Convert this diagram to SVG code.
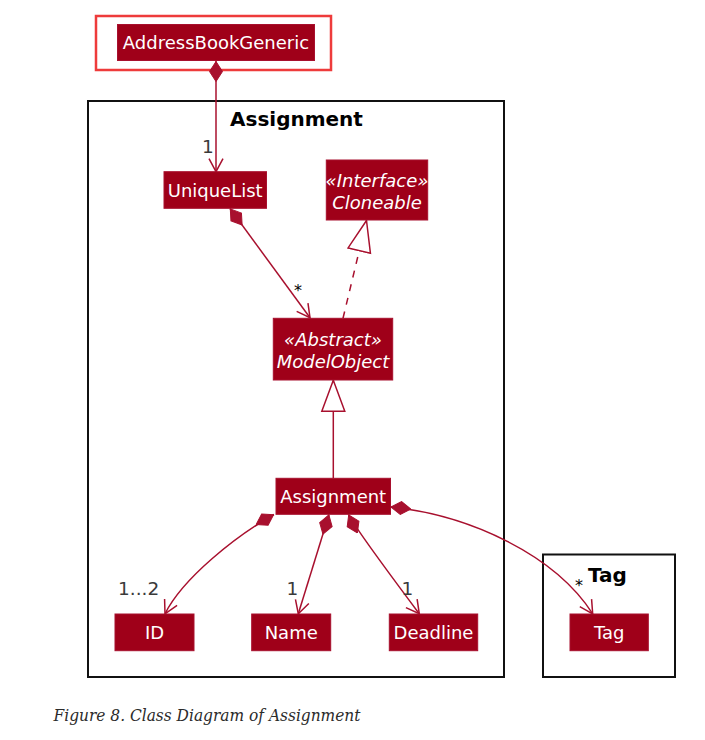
<svg xmlns="http://www.w3.org/2000/svg" width="705" height="740" viewBox="0 0 705 740">
<style>
.box{fill:#9f0019;stroke:#a8102e;stroke-width:1}
.lbl{font-family:"DejaVu Sans",sans-serif;font-size:18px;fill:#ffffff;text-anchor:middle}
.it{font-style:italic}
.frame{fill:none;stroke:#111;stroke-width:2}
.pkg{font-family:"DejaVu Sans",sans-serif;font-weight:bold;font-size:20px;fill:#000}
.mult{font-family:"DejaVu Sans",sans-serif;font-size:18.5px;fill:#3a3a3a}
.star{font-family:"DejaVu Sans",sans-serif;font-size:16px;fill:#000;text-anchor:middle}
.conn{fill:none;stroke:#a8102e;stroke-width:1.5}
</style>
<defs>
<marker id="arrow" viewBox="-1 -1 15 16" refX="13" refY="7" markerWidth="15" markerHeight="16" markerUnits="userSpaceOnUse" orient="auto">
<path d="M0,0 L13,7 L0,14" fill="none" stroke="#a8102e" stroke-width="1.5" stroke-dasharray="none"/>
</marker>
<marker id="diamond" viewBox="0 -8 21 16" refX="0" refY="0" markerWidth="21" markerHeight="16" markerUnits="userSpaceOnUse" orient="auto">
<path d="M0.5,0 L10.5,-6.5 L20.5,0 L10.5,6.5 Z" fill="#a8102e" stroke="#a8102e" stroke-width="1"/>
</marker>
<marker id="tri" viewBox="-1 -13 33 26" refX="31" refY="0" markerWidth="33" markerHeight="26" markerUnits="userSpaceOnUse" orient="auto">
<path d="M31,0 L0,-11.5 L0,11.5 Z" fill="#ffffff" stroke="#a8102e" stroke-width="1.5" stroke-dasharray="none"/>
</marker>
</defs>

<rect x="96" y="16" width="235" height="54" fill="none" stroke="#ee3b3b" stroke-width="2.5"/>

<g id="pkg-assignment">
<rect class="frame" x="88" y="101" width="416" height="576"/>
<text class="pkg" x="230" y="126">Assignment</text>
</g>
<g id="pkg-tag">
<rect class="frame" x="543" y="554.5" width="132" height="122.5"/>
<text class="pkg" x="588" y="582">Tag</text>
</g>

<g id="connectors">
<path class="conn" d="M216,61 L216,171.7" marker-start="url(#diamond)" marker-end="url(#arrow)"/>
<path class="conn" d="M230,208.5 L310,317.8" marker-start="url(#diamond)" marker-end="url(#arrow)"/>
<path class="conn" d="M343,318.3 L366.5,220.5" stroke-dasharray="7,7" marker-end="url(#tri)"/>
<path class="conn" d="M333.3,478.3 L333.3,380.3" marker-end="url(#tri)"/>
<path class="conn" d="M274,514.5 C236,536 183,578 165,613.8" marker-start="url(#diamond)" marker-end="url(#arrow)"/>
<path class="conn" d="M329,514.5 L298.3,613.8" marker-start="url(#diamond)" marker-end="url(#arrow)"/>
<path class="conn" d="M348.5,514.5 C355,528 400,588 419.3,613.8" marker-start="url(#diamond)" marker-end="url(#arrow)"/>
<path class="conn" d="M390.5,507 C470,515 555,555 592.7,613.8" marker-start="url(#diamond)" marker-end="url(#arrow)"/>
<text class="mult" x="202" y="153">1</text>
<text class="star" x="298" y="296">*</text>
<text class="mult" x="118" y="595">1...2</text>
<text class="mult" x="286.5" y="595">1</text>
<text class="mult" x="401.5" y="595">1</text>
<text class="star" x="579" y="591">*</text>
</g>

<g id="node-addressbookgeneric">
<rect class="box" x="117.5" y="24.5" width="197" height="36"/>
<text class="lbl" x="216" y="49">AddressBookGeneric</text>
</g>
<g id="node-uniquelist">
<rect class="box" x="164" y="171.7" width="102.5" height="36.6"/>
<text class="lbl" x="215.2" y="196.5">UniqueList</text>
</g>
<g id="node-cloneable">
<rect class="box" x="326.3" y="160" width="101.4" height="60"/>
<text class="lbl it" x="377" y="187">«Interface»</text>
<text class="lbl it" x="377" y="209">Cloneable</text>
</g>
<g id="node-modelobject">
<rect class="box" x="273.3" y="318.3" width="119.4" height="61.7"/>
<text class="lbl it" x="333" y="346">«Abstract»</text>
<text class="lbl it" x="333" y="368">ModelObject</text>
</g>
<g id="node-assignment">
<rect class="box" x="276" y="478.3" width="114.5" height="36"/>
<text class="lbl" x="333.2" y="503">Assignment</text>
</g>
<g id="node-id">
<rect class="box" x="115" y="614" width="79" height="36.7"/>
<text class="lbl" x="154.5" y="638.5">ID</text>
</g>
<g id="node-name">
<rect class="box" x="251.7" y="614" width="79" height="36.7"/>
<text class="lbl" x="291.2" y="638.5">Name</text>
</g>
<g id="node-deadline">
<rect class="box" x="389.3" y="614" width="88.4" height="36.7"/>
<text class="lbl" x="433.5" y="638.5">Deadline</text>
</g>
<g id="node-tag">
<rect class="box" x="570" y="614" width="78.3" height="36.7"/>
<text class="lbl" x="609.2" y="638.5">Tag</text>
</g>

<text x="53.5" y="720.5" font-family="'DejaVu Serif',serif" font-style="italic" font-size="17px" fill="#2b2b2b" textLength="307" lengthAdjust="spacingAndGlyphs">Figure 8. Class Diagram of Assignment</text>
</svg>
